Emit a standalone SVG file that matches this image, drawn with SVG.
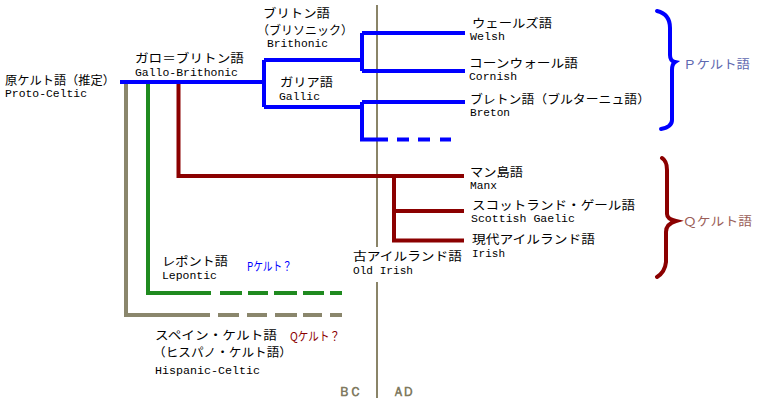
<svg xmlns="http://www.w3.org/2000/svg" width="764" height="407" viewBox="0 0 764 407">
<style>
.jp{font-family:"Noto Sans CJK JP","Noto Sans CJK SC",sans-serif;font-size:12px;fill:#000}
.en{font-family:"Liberation Mono","DejaVu Sans Mono",monospace;font-size:11.5px;fill:#000}
.b{stroke:#0000ff;stroke-width:4;fill:none}
.r{stroke:#8b0000;stroke-width:4;fill:none}
.g{stroke:#1f8a1f;stroke-width:4;fill:none}
.k{stroke:#8a866c;stroke-width:4;fill:none}
.era{font-family:"Liberation Serif","DejaVu Serif",serif;font-size:13px;font-weight:bold;fill:#807a60}
</style>
<rect width="764" height="407" fill="#fff"/>
<g id="connectors">
<path d="M377,5 V247 M377,282 V398" stroke="#8a8468" stroke-width="2" fill="none"/>
<path class="k" d="M126,84 V315 H210 M218,315 H239 M247,315 H267 M275,315 H297 M303,315 H322 M330,315 H342"/>
<path class="g" d="M148,84 V293 H211 M220,293 H242 M248,293 H268 M274,293 H297 M303,293 H324 M330,293 H342"/>
<path class="r" d="M178.5,84 V176 H464 M394,176 V240.5 H464 M394,211 H464"/>
<path class="b" d="M120,82 H264 M264,60 V107 M264,60 H362 M362,33 V71 M362,33 H465 M362,71 H465 M264,107 H362 M362,102 V139.5 H388 M362,102 H465 M397,139.5 H409 M418,139.5 H430 M440,139.5 H451"/>
<path class="b" stroke-linecap="round" d="M657,11 Q670,14 670,28 V55 Q670,61 675,62 Q672,64 672,70 V120 Q672,127 661,129"/>
<path class="r" stroke-linecap="round" d="M662,158 Q667,161 667,170 V214 Q667,219 676,221 Q666,224 666,232 V262 Q665,272 657,277"/>
</g>
<g id="proto-celtic">
<text class="jp" x="5" y="85" textLength="110" lengthAdjust="spacingAndGlyphs">原ケルト語（推定）</text>
<text class="en" x="5" y="97" textLength="82" lengthAdjust="spacingAndGlyphs">Proto-Celtic</text>
</g>
<g id="gallo-brithonic">
<text class="jp" x="135" y="63" textLength="109" lengthAdjust="spacingAndGlyphs">ガロ＝ブリトン語</text>
<text class="en" x="135" y="76" textLength="103" lengthAdjust="spacingAndGlyphs">Gallo-Brithonic</text>
</g>
<g id="brithonic">
<text class="jp" x="263" y="18" textLength="67" lengthAdjust="spacingAndGlyphs">ブリトン語</text>
<text class="jp" x="257" y="35" textLength="96" lengthAdjust="spacingAndGlyphs">（ブリソニック）</text>
<text class="en" x="267" y="47" textLength="61" lengthAdjust="spacingAndGlyphs">Brithonic</text>
</g>
<g id="gallic">
<text class="jp" x="280" y="87" textLength="53" lengthAdjust="spacingAndGlyphs">ガリア語</text>
<text class="en" x="279" y="100" textLength="41" lengthAdjust="spacingAndGlyphs">Gallic</text>
</g>
<g id="welsh">
<text class="jp" x="472" y="28" textLength="80" lengthAdjust="spacingAndGlyphs">ウェールズ語</text>
<text class="en" x="470" y="40" textLength="35" lengthAdjust="spacingAndGlyphs">Welsh</text>
</g>
<g id="cornish">
<text class="jp" x="469" y="68" textLength="109" lengthAdjust="spacingAndGlyphs">コーンウォール語</text>
<text class="en" x="469" y="80" textLength="48" lengthAdjust="spacingAndGlyphs">Cornish</text>
</g>
<g id="breton">
<text class="jp" x="470" y="104" textLength="180" lengthAdjust="spacingAndGlyphs">ブレトン語（ブルターニュ語）</text>
<text class="en" x="470" y="116" textLength="40" lengthAdjust="spacingAndGlyphs">Breton</text>
</g>
<g id="p-celtic">
<text class="jp" x="683" y="69" textLength="67" lengthAdjust="spacingAndGlyphs" style="fill:#5e68b0">Ｐケルト語</text>
</g>
<g id="manx">
<text class="jp" x="470" y="177" textLength="53" lengthAdjust="spacingAndGlyphs">マン島語</text>
<text class="en" x="470" y="189" textLength="27" lengthAdjust="spacingAndGlyphs">Manx</text>
</g>
<g id="scottish-gaelic">
<text class="jp" x="472" y="210" textLength="163" lengthAdjust="spacingAndGlyphs">スコットランド・ゲール語</text>
<text class="en" x="471" y="222" textLength="104" lengthAdjust="spacingAndGlyphs">Scottish Gaelic</text>
</g>
<g id="irish">
<text class="jp" x="472" y="244" textLength="123" lengthAdjust="spacingAndGlyphs">現代アイルランド語</text>
<text class="en" x="472" y="257" textLength="33" lengthAdjust="spacingAndGlyphs">Irish</text>
</g>
<g id="old-irish">
<text class="jp" x="353" y="261" textLength="109" lengthAdjust="spacingAndGlyphs">古アイルランド語</text>
<text class="en" x="353" y="274" textLength="60" lengthAdjust="spacingAndGlyphs">Old Irish</text>
</g>
<g id="q-celtic">
<text class="jp" x="683" y="226" textLength="69" lengthAdjust="spacingAndGlyphs" style="fill:#9a5e58">Ｑケルト語</text>
</g>
<g id="lepontic">
<text class="jp" x="162" y="266" textLength="66" lengthAdjust="spacingAndGlyphs">レポント語</text>
<text class="en" x="162" y="279" textLength="55" lengthAdjust="spacingAndGlyphs">Lepontic</text>
<text class="jp" x="247" y="271" textLength="45" lengthAdjust="spacingAndGlyphs" style="fill:#0000ff">Pケルト？</text>
</g>
<g id="hispanic-celtic">
<text class="jp" x="155" y="340" textLength="122" lengthAdjust="spacingAndGlyphs">スペイン・ケルト語</text>
<text class="jp" x="290" y="341" textLength="50" lengthAdjust="spacingAndGlyphs" style="fill:#8b0000">Qケルト？</text>
<text class="jp" x="153" y="357" textLength="139" lengthAdjust="spacingAndGlyphs">（ヒスパノ・ケルト語）</text>
<text class="en" x="155" y="374" textLength="105" lengthAdjust="spacingAndGlyphs">Hispanic-Celtic</text>
</g>
<g id="era-labels">
<text class="era" x="338" y="396" textLength="24" lengthAdjust="spacing">ＢＣ</text>
<text class="era" x="392" y="396" textLength="23" lengthAdjust="spacing">ＡＤ</text>
</g>
</svg>
